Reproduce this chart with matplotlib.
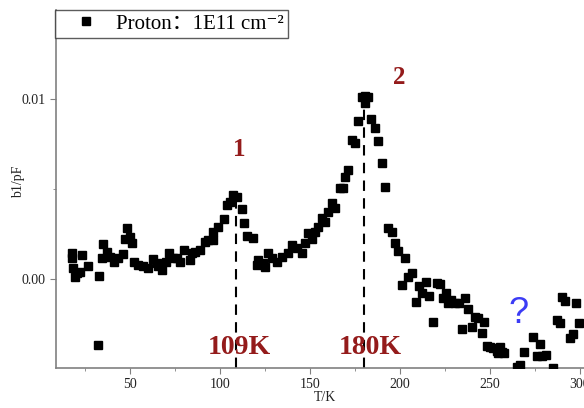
import numpy as np
import matplotlib
matplotlib.use('Agg')
import matplotlib.pyplot as plt
from matplotlib.ticker import MultipleLocator

# temperature (K) and b1 (pF)
T = [17.6, 17.6, 18.5, 19.4, 20.6, 22.2, 23.5, 26.8, 32.1, 33.0,
     34.3, 35.2, 37.1, 38.9, 41.3, 43.5, 45.9, 47.2, 48.2, 50.0,
     51.3, 52.4, 54.6, 57.1, 60.2, 62.6, 64.8, 65.7, 67.9, 69.8,
     71.8, 74.1, 75.9, 77.8, 80.2, 83.3, 84.3, 86.1, 88.9, 91.7,
     93.5, 96.3, 96.3, 99.1, 102.4, 103.7, 105.6, 107.4, 109.3, 112.0,
     113.5, 114.8, 118.5, 120.4, 121.3, 124.1, 125.0, 126.8, 128.7, 131.5,
     134.3, 137.9, 139.8, 142.6, 145.4, 147.2, 149.1, 150.9, 152.8, 154.6,
     156.5, 158.3, 160.2, 162.1, 163.9, 166.7, 168.5, 169.4, 171.3, 173.2,
     175.0, 176.8, 178.7, 180.4, 180.6, 182.4, 183.9, 186.1, 188.0, 189.8,
     191.7, 193.5, 195.4, 197.2, 199.1, 200.9, 202.8, 204.6, 206.5, 208.7,
     210.7, 212.4, 214.4, 216.3, 218.2, 220.4, 222.2, 223.7, 225.4, 226.8,
     228.2, 230.6, 232.8, 234.3, 236.1, 238.0, 239.8, 241.7, 243.5, 245.4,
     246.8, 248.2, 250.0, 251.8, 253.7, 254.6, 255.6, 256.5, 257.8, 264.8,
     266.7, 268.9, 274.1, 276.0, 277.8, 278.7, 281.3, 284.8, 287.1, 288.9,
     289.8, 291.7, 294.4, 295.9, 297.8, 299.6]
b1 = [0.00143, 0.00115, 0.00060, 0.00013, 0.00033, 0.00041, 0.00134, 0.00072, -0.00367, 0.00017,
      0.00115, 0.00193, 0.00152, 0.00124, 0.00096, 0.00115, 0.00139, 0.00221, 0.00282, 0.00235,
      0.00202, 0.00096, 0.00078, 0.00072, 0.00060, 0.00110, 0.00087, 0.00072, 0.00050, 0.00096,
      0.00143, 0.00115, 0.00117, 0.00096, 0.00161, 0.00106, 0.00146, 0.00152, 0.00161, 0.00208,
      0.00217, 0.00217, 0.00263, 0.00287, 0.00332, 0.00412, 0.00430, 0.00467, 0.00458, 0.00388,
      0.00313, 0.00239, 0.00226, 0.00078, 0.00106, 0.00087, 0.00065, 0.00143, 0.00115, 0.00096,
      0.00124, 0.00143, 0.00189, 0.00171, 0.00146, 0.00199, 0.00254, 0.00223, 0.00263, 0.00291,
      0.00338, 0.00320, 0.00375, 0.00421, 0.00393, 0.00505, 0.00505, 0.00569, 0.00606, 0.00773,
      0.00755, 0.00881, 0.01014, 0.01018, 0.00978, 0.01014, 0.00889, 0.00839, 0.00768, 0.00644,
      0.00514, 0.00282, 0.00260, 0.00202, 0.00156, -0.00033, 0.00115, 0.00009, 0.00031, -0.00126,
      -0.00039, -0.00076, -0.00018, -0.00093, -0.00239, -0.00021, -0.00028, -0.00104, -0.00080, -0.00135,
      -0.00117, -0.00135, -0.00132, -0.00280, -0.00107, -0.00169, -0.00265, -0.00210, -0.00219, -0.00298,
      -0.00241, -0.00374, -0.00377, -0.00385, -0.00400, -0.00413, -0.00377, -0.00404, -0.00410, -0.00488,
      -0.00479, -0.00405, -0.00321, -0.00426, -0.00363, -0.00430, -0.00423, -0.00497, -0.00228, -0.00246,
      -0.00102, -0.00121, -0.00330, -0.00308, -0.00135, -0.00243]

peak_T = [109, 180]
peak_top = [0.00467, 0.01018]
peak_labels = ['109K', '180K']
peak_names = ['1', '2']

plt.rcParams['font.family'] = ['Liberation Serif', 'DejaVu Serif', 'Noto Sans CJK SC']

fig = plt.figure(figsize=(5.84, 4.08), dpi=100)
ax = fig.add_axes([56/584, 40/408, 560/584, 358/408])

ax.plot(T, b1, 's', color='black', markersize=5.6, label='Proton：1E11 cm⁻²', zorder=3)

ymin, ymax = -0.00495, 0.01497
for t, top in zip(peak_T, peak_top):
    ax.plot([t, t], [ymin, top], color='black', lw=1.5, ls=(0, (5, 3.5)), zorder=2)

red = '#941b1b'
ax.text(111, -0.0038, peak_labels[0], color=red, fontsize=20, fontweight='bold', ha='center', va='center')
ax.text(183.5, -0.0038, peak_labels[1], color=red, fontsize=20, fontweight='bold', ha='center', va='center')
ax.text(110.5, 0.0072, peak_names[0], color=red, fontsize=18, fontweight='bold', ha='center', va='center')
ax.text(199.5, 0.0112, peak_names[1], color=red, fontsize=18, fontweight='bold', ha='center', va='center')
ax.text(266, -0.0019, '?', color='#3c3cf5', fontsize=26, ha='center', va='center',
        family=['Liberation Sans', 'DejaVu Sans'])

ax.set_xlim(8.9, 320)
ax.set_ylim(ymin, ymax)
ax.xaxis.set_major_locator(MultipleLocator(50))
ax.xaxis.set_minor_locator(MultipleLocator(25))
ax.set_yticks([0.0, 0.01])
ax.set_yticklabels(['0.00', '0.01'])
ax.yaxis.set_minor_locator(MultipleLocator(0.005))

for s in ['top', 'right']:
    ax.spines[s].set_visible(False)
for s in ['left', 'bottom']:
    ax.spines[s].set_color('#808080')
    ax.spines[s].set_linewidth(1.2)
ax.tick_params(which='both', direction='out', colors='#808080', labelcolor='#222222', labelsize=10)
ax.tick_params(which='major', length=4)
ax.tick_params(which='minor', length=2.5)

ax.set_xlabel('T/K', fontsize=10, color='#222222')
ax.set_ylabel('b1/pF', fontsize=10, color='#222222')
ax.xaxis.set_label_coords(269/560, -0.065)
ax.yaxis.set_label_coords(-31/560, 0.52)

leg = ax.legend(loc='upper left', bbox_to_anchor=(55/584, 1 - 10/408), bbox_transform=fig.transFigure,
                borderaxespad=0, fancybox=False, frameon=True, fontsize=15, handletextpad=0.15,
                borderpad=0.2, handlelength=2.6)
leg.get_frame().set_edgecolor('#333333')
leg.get_frame().set_linewidth(1.0)

fig.savefig('out.png', dpi=100)
